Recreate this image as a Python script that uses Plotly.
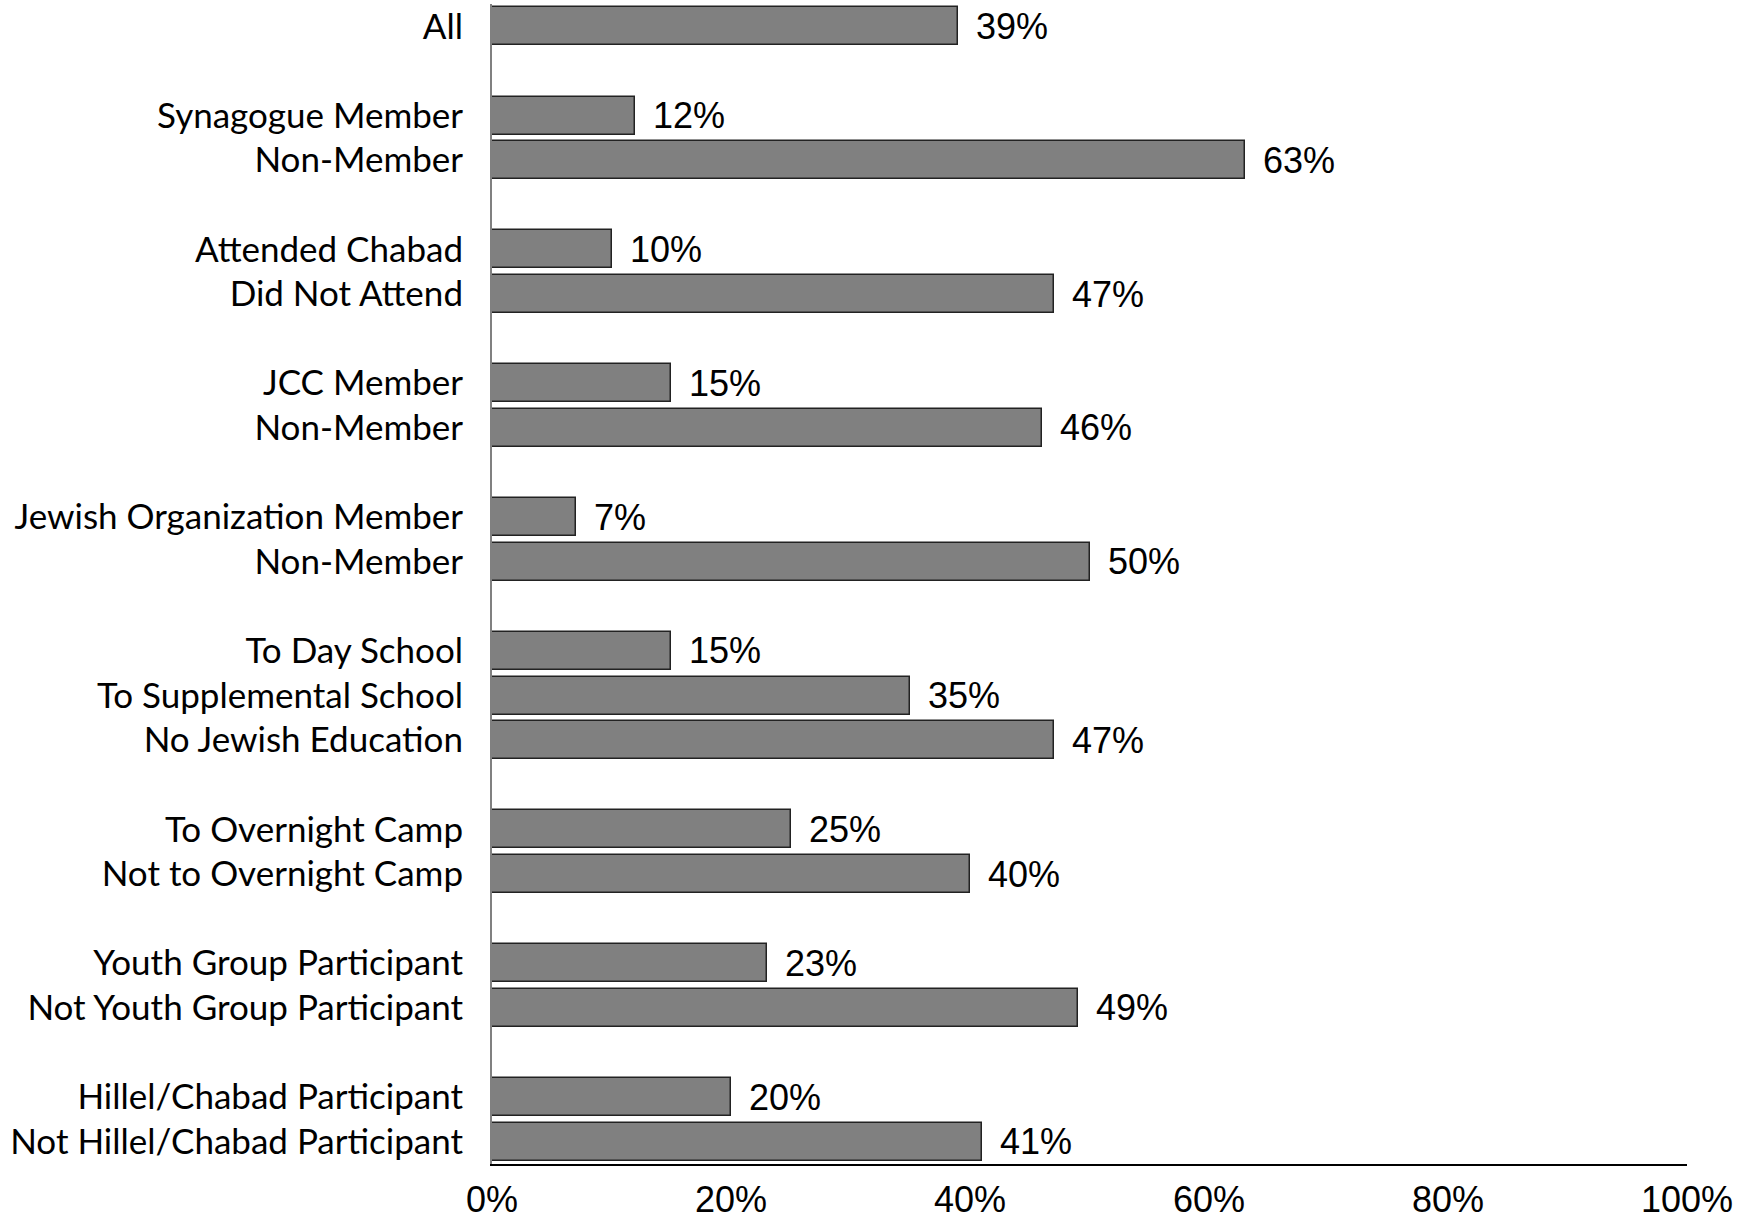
import plotly.graph_objects as go

# Row labels (None = blank spacer row), top to bottom
labels = [
    "All", None,
    "Synagogue Member", "Non-Member", None,
    "Attended Chabad", "Did Not Attend", None,
    "JCC Member", "Non-Member", None,
    "Jewish Organization Member", "Non-Member", None,
    "To Day School", "To Supplemental School", "No Jewish Education", None,
    "To Overnight Camp", "Not to Overnight Camp", None,
    "Youth Group Participant", "Not Youth Group Participant", None,
    "Hillel/Chabad Participant", "Not Hillel/Chabad Participant",
]
values = [
    39, None,
    12, 63, None,
    10, 47, None,
    15, 46, None,
    7, 50, None,
    15, 35, 47, None,
    25, 40, None,
    23, 49, None,
    20, 41,
]
x_ticks = [0, 20, 40, 60, 80, 100]
x_ticktext = ["0%", "20%", "40%", "60%", "80%", "100%"]

pos = [i for i, l in enumerate(labels) if l is not None]
lab = [labels[i] for i in pos]
val = [values[i] for i in pos]

fig = go.Figure()
fig.add_trace(go.Bar(
    x=val, y=pos, orientation="h", width=0.85,
    marker=dict(color="#808080", line=dict(color="#222222", width=1.5)),
    hoverinfo="skip", showlegend=False,
))

for p, v in zip(pos, val):
    fig.add_annotation(
        x=v, y=p, text=f"{v}%", showarrow=False, xanchor="left", yanchor="middle",
        xshift=16, font=dict(family="Liberation Sans, Arial", size=36, color="#000000"),
    )

fig.update_layout(
    width=1747, height=1221,
    margin=dict(l=492, r=60, t=4, b=57, pad=0),
    paper_bgcolor="white", plot_bgcolor="white",
    bargap=0,
)
fig.update_xaxes(
    range=[0, 100], tickvals=x_ticks, ticktext=x_ticktext,
    showgrid=False, zeroline=False, automargin=False,
    showline=True, linecolor="#000000", linewidth=2,
    ticks="", ticklabelstandoff=3,
    tickfont=dict(family="Liberation Sans, Arial", size=36, color="#000000"),
)
fig.update_yaxes(
    range=[len(labels) - 0.5, -0.5], tickvals=pos, ticktext=lab,
    showgrid=False, zeroline=False, automargin=False,
    showline=True, linecolor="#808080", linewidth=2,
    ticks="", ticklabelstandoff=20,
    tickfont=dict(family="Lato", size=35, color="#000000"),
)

fig.write_html(
    "out.html",
    config={"displayModeBar": False},
    post_script="document.body.style.margin='0px'; document.body.style.overflow='hidden';",
)
